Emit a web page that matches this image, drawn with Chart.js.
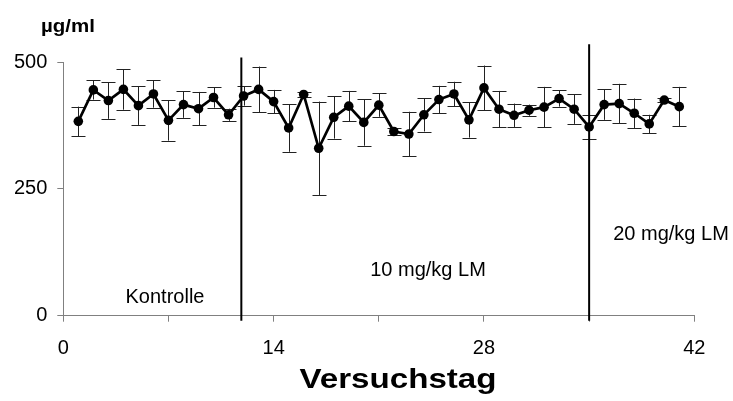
<!DOCTYPE html>
<html>
<head>
<meta charset="utf-8">
<script src="https://cdn.jsdelivr.net/npm/chart.js@4.4.1/dist/chart.umd.min.js"></script>
<style>
html,body{margin:0;padding:0;background:#fff;}
#wrap{width:733px;height:401px;position:relative;}
</style>
</head>
<body>
<div id="wrap"><canvas id="c" width="733" height="401"></canvas></div>
<script>
const days = [1,2,3,4,5,6,7,8,9,10,11,12,13,14,15,16,17,18,19,20,21,22,23,24,25,26,27,28,29,30,31,32,33,34,35,36,37,38,39,40,41];
const means = [383,445,424,446,414,437,385,416,408,430,396,433,446,422,370,436,330,391,413,381,415,363,358,396,426,437,386,449,407,395,405,411,428,407,372,416,418,399,378,425,412];
const errors = [29,19,36,40,38,27,40,26,33,20,12,19,45,23,47,5,92,42,30,46,23,7,44,33,27,24,35,44,36,23,11,40,16,29,23,30,39,29,18,4,39];
const xTicks = [0,14,28,42];
const yTicks = [0,250,500];
const phaseBreaks = [11.85, 35];
const phaseTops = [509, 535];
const phaseLabels = ["Kontrolle","10 mg/kg LM","20 mg/kg LM"];
const yUnit = "µg/ml";
const xTitle = "Versuchstag";

const FONT = "'Liberation Sans', Arial, sans-serif";
const AXIS = '#808080';

const points = days.map((d,i)=>({x:d,y:means[i]}));

const errorBars = {
  id:'errorBars',
  beforeDatasetsDraw(chart){
    const ctx = chart.ctx, xs = chart.scales.x, ys = chart.scales.y;
    ctx.save();
    ctx.strokeStyle = '#222';
    ctx.lineWidth = 1;
    days.forEach((d,i)=>{
      const px = Math.round(xs.getPixelForValue(d))+0.5;
      const top = ys.getPixelForValue(means[i]+errors[i]);
      const bot = ys.getPixelForValue(means[i]-errors[i]);
      ctx.beginPath();
      ctx.moveTo(px, top); ctx.lineTo(px, bot);
      ctx.moveTo(px-7, Math.round(top)+0.5); ctx.lineTo(px+7, Math.round(top)+0.5);
      ctx.moveTo(px-7, Math.round(bot)+0.5); ctx.lineTo(px+7, Math.round(bot)+0.5);
      ctx.stroke();
    });
    ctx.restore();
  }
};

function stretchedText(ctx, txt, cx, cy, targetW){
  const w = ctx.measureText(txt).width;
  const k = targetW / w;
  ctx.save();
  ctx.translate(cx, cy);
  ctx.scale(k, 1);
  ctx.textAlign = 'center';
  ctx.fillText(txt, 0, 0);
  ctx.restore();
}

const texts = {
  id:'texts',
  afterDraw(chart){
    const ctx = chart.ctx;
    ctx.save();
    ctx.fillStyle = '#000';
    ctx.textBaseline = 'middle';
    ctx.font = "bold 18px " + FONT;
    stretchedText(ctx, yUnit, 68, 27, 54);
    ctx.font = "20px " + FONT;
    ctx.textAlign = 'center';
    ctx.fillText(phaseLabels[0], 165, 297);
    ctx.fillText(phaseLabels[1], 428, 270);
    ctx.fillText(phaseLabels[2], 671, 234);
    ctx.font = "bold 28px " + FONT;
    stretchedText(ctx, xTitle, 398, 380, 197);
    ctx.restore();
  }
};

const phaseSets = phaseBreaks.map((b,i)=>({
  type:'line',
  data:[{x:b,y:-10},{x:b,y:phaseTops[i]}],
  borderColor:'#000', borderWidth:2, pointRadius:0, clip:false, order:2
}));

new Chart(document.getElementById('c'), {
  type:'line',
  data:{ datasets:[
    { data:points, borderColor:'#000', borderWidth:2.7, backgroundColor:'#000',
      pointRadius:4.8, pointBackgroundColor:'#000', pointBorderWidth:0, tension:0, clip:false, order:1 },
    ...phaseSets
  ]},
  options:{
    responsive:false, animation:false,
    layout:{ padding:{left:0, right:38.7, top:62, bottom:0} },
    plugins:{ legend:{display:false}, tooltip:{enabled:false}, title:{display:false} },
    scales:{
      x:{ type:'linear', min:0, max:42,
        afterBuildTicks(s){ s.ticks = [0,7,14,21,28,35,42].map(v=>({value:v})); },
        afterFit(s){ s.height = 85.3; },
        ticks:{ font:{family:FONT,size:20}, color:'#000', padding:15, maxRotation:0, autoSkip:false,
          callback:(v)=> xTicks.includes(v) ? String(v) : '' },
        grid:{ drawOnChartArea:false, drawTicks:true, tickLength:6, color:AXIS },
        border:{ color:AXIS, width:1 }
      },
      y:{ min:0, max:500,
        afterBuildTicks(s){ s.ticks = yTicks.map(v=>({value:v})); },
        afterFit(s){ s.width = 63.3; },
        ticks:{ font:{family:FONT,size:20}, color:'#000', padding:10 },
        grid:{ drawOnChartArea:false, drawTicks:true, tickLength:6, color:AXIS },
        border:{ color:AXIS, width:1 }
      }
    }
  },
  plugins:[errorBars, texts]
});
</script>
</body>
</html>
